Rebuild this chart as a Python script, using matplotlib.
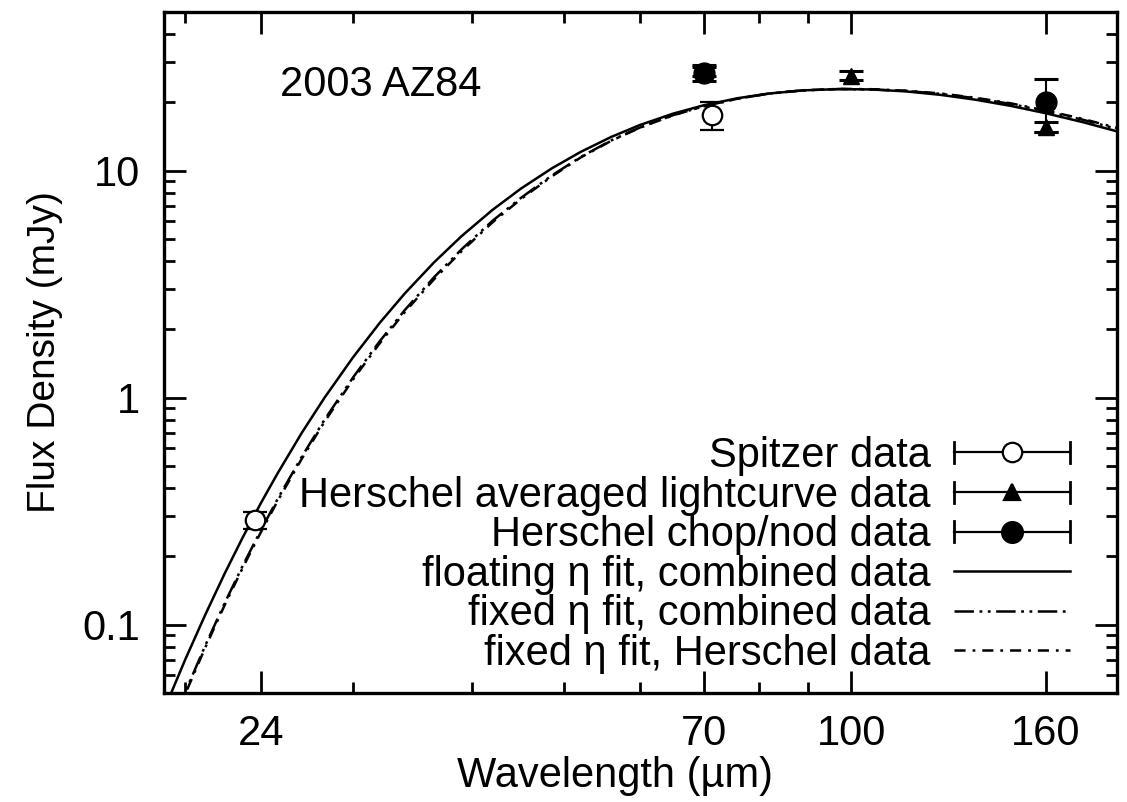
import matplotlib
matplotlib.use("Agg")
import matplotlib.pyplot as plt
from matplotlib.lines import Line2D
from matplotlib.legend_handler import HandlerBase
from matplotlib.ticker import FixedLocator, NullFormatter, FixedFormatter

plt.rcParams['font.family'] = ['Liberation Sans', 'DejaVu Sans']
plt.rcParams['lines.scale_dashes'] = False

# --- observations (wavelength in micron, flux in mJy) ---
spitzer_wl = [23.68, 71.42]
spitzer_flux = [0.29, 17.6]
spitzer_err = [0.025, 2.5]

herschel_lc_wl = [70, 100, 160]
herschel_lc_flux = [27.4, 26.2, 15.6]
herschel_lc_err = [1.3, 1.2, 0.8]

herschel_cn_wl = [70, 160]
herschel_cn_flux = [27.0, 20.1]
herschel_cn_err = [2.2, 5.3]

# --- model SEDs ---
model_wl = [19.2, 20, 21, 22, 23, 24, 25, 26.5, 28, 30, 32, 34, 36.5, 39, 42, 45,
            48.5, 52, 56, 60, 65, 70, 76, 82, 89, 97, 105, 114, 124, 135, 147,
            160, 175, 190]
fit_float_flux = [0.0467, 0.0702, 0.111, 0.168, 0.244, 0.342, 0.464, 0.699, 0.999,
                  1.506, 2.136, 2.880, 3.952, 5.150, 6.707, 8.332, 10.24, 12.10,
                  14.09, 15.89, 17.83, 19.41, 20.86, 21.87, 22.58, 22.88, 22.79,
                  22.35, 21.58, 20.54, 19.29, 17.90, 16.35, 14.90]

fixed_wl = [19.6, 20, 21, 22, 23, 24, 25, 26.5, 28, 30, 32, 34, 36.5, 39, 42, 45,
            48.5, 52, 56, 60, 65, 70, 76, 82, 89, 97, 105, 114, 124, 135, 147,
            160, 175, 190]
fit_fixed_comb_flux = [0.0408, 0.0505, 0.0812, 0.1245, 0.1831, 0.2598, 0.3576,
                       0.5485, 0.799, 1.228, 1.773, 2.433, 3.398, 4.506, 6.003,
                       7.582, 9.525, 11.49, 13.60, 15.49, 17.56, 19.22, 20.76,
                       21.87, 22.58, 22.88, 22.79, 22.46, 21.80, 20.85, 19.68,
                       18.26, 16.76, 15.27]
fit_fixed_hers_flux = [0.0400, 0.0495, 0.0796, 0.1220, 0.1794, 0.2546, 0.3505,
                       0.5375, 0.783, 1.203, 1.737, 2.385, 3.330, 4.420, 5.910,
                       7.490, 9.440, 11.43, 13.55, 15.46, 17.54, 19.21, 20.76,
                       21.87, 22.60, 22.92, 22.85, 22.52, 21.88, 20.95, 19.80,
                       18.40, 16.90, 15.42]

object_name = "2003 AZ84"
x_major = [24, 70, 100, 160]
x_minor = [20, 30, 40, 50, 60, 80, 90]
y_major = [0.1, 1, 10]
y_major_labels = ["0.1", "1", "10"]
y_minor = [0.06, 0.07, 0.08, 0.09, 0.2, 0.3, 0.4, 0.5, 0.6, 0.7, 0.8, 0.9,
           2, 3, 4, 5, 6, 7, 8, 9, 20, 30, 40]

labels = ["Spitzer data",
          "Herschel averaged lightcurve data",
          "Herschel chop/nod data",
          "floating η fit, combined data",
          "fixed η fit, combined data",
          "fixed η fit, Herschel data"]

FS = 30
fig = plt.figure(figsize=(11.27, 8.02), dpi=100)
ax = fig.add_axes([164/1127, 1 - 693/802, 953/1127, 681/802])

style_comb = (0, (14, 4, 2, 4, 2, 4))
style_hers = (0, (8, 5, 2, 5))

ax.plot(model_wl, fit_float_flux, color='black', lw=1.8, ls='-')
ax.plot(fixed_wl, fit_fixed_comb_flux, color='black', lw=1.8, ls=style_comb)
ax.plot(fixed_wl, fit_fixed_hers_flux, color='black', lw=1.8, ls=style_hers)

eb_kw = dict(ls='none', color='black', ecolor='black', elinewidth=1.5,
             capsize=8.5, capthick=2.2)
ax.errorbar(spitzer_wl, spitzer_flux, yerr=spitzer_err, fmt='o', ms=14,
            mfc='white', mec='black', mew=1.6, **eb_kw)
ax.errorbar(herschel_lc_wl, herschel_lc_flux, yerr=herschel_lc_err, fmt='^', ms=12,
            mfc='black', mec='black', **eb_kw)
ax.errorbar(herschel_cn_wl, herschel_cn_flux, yerr=herschel_cn_err, fmt='o', ms=15,
            mfc='black', mec='black', **eb_kw)

ax.set_xscale('log')
ax.set_yscale('log')
ax.set_xlim(19.0, 190.0)
ax.set_ylim(0.05, 50)

ax.xaxis.set_major_locator(FixedLocator(x_major))
ax.xaxis.set_major_formatter(FixedFormatter([str(v) for v in x_major]))
ax.xaxis.set_minor_locator(FixedLocator(x_minor))
ax.xaxis.set_minor_formatter(NullFormatter())
ax.yaxis.set_major_locator(FixedLocator(y_major))
ax.yaxis.set_major_formatter(FixedFormatter(y_major_labels))
ax.yaxis.set_minor_locator(FixedLocator(y_minor))
ax.yaxis.set_minor_formatter(NullFormatter())

ax.tick_params(which='both', direction='in', top=True, right=True, width=2.0,
               labelsize=FS, colors='black')
ax.tick_params(which='major', length=15.5)
ax.tick_params(which='minor', length=8)
ax.tick_params(axis='x', which='major', pad=15)
ax.tick_params(axis='y', which='major', pad=17)
for sp in ax.spines.values():
    sp.set_linewidth(2.4)

ax.set_xlabel("Wavelength (µm)", fontsize=30, labelpad=0)
ax.xaxis.set_label_coords((615 - 164) / 953, -0.092)
ax.set_ylabel("Flux Density (mJy)", fontsize=28, labelpad=14)

ax.text(0.122, 0.893, object_name, transform=ax.transAxes, fontsize=FS,
        ha='left', va='center')


class HandlerBarSample(HandlerBase):
    """Horizontal bar with end caps and a centred marker."""
    def create_artists(self, legend, orig_handle, xdescent, ydescent,
                       width, height, fontsize, trans):
        y = height / 2 - ydescent
        x0, x1 = -xdescent, width - xdescent
        cap = height * 0.36
        arts = [Line2D([x0, x1], [y, y], color='black', lw=1.6),
                Line2D([x0, x0], [y - cap, y + cap], color='black', lw=2.0),
                Line2D([x1, x1], [y - cap, y + cap], color='black', lw=2.0),
                Line2D([(x0 + x1) / 2], [y], marker=orig_handle.get_marker(),
                       ms=orig_handle.get_markersize(),
                       mfc=orig_handle.get_markerfacecolor(),
                       mec='black', mew=1.6, ls='none')]
        for a in arts:
            a.set_transform(trans)
        return arts


h_sp = Line2D([], [], marker='o', ms=14, mfc='white')
h_lc = Line2D([], [], marker='^', ms=11, mfc='black')
h_cn = Line2D([], [], marker='o', ms=15, mfc='black')
h_f1 = Line2D([], [], color='black', lw=1.8, ls='-')
h_f2 = Line2D([], [], color='black', lw=1.8, ls=style_comb)
h_f3 = Line2D([], [], color='black', lw=1.8, ls=style_hers)

handler = HandlerBarSample()
leg = ax.legend([h_sp, h_lc, h_cn, h_f1, h_f2, h_f3], labels,
                handler_map={h_sp: handler, h_lc: handler, h_cn: handler},
                loc='lower right', bbox_to_anchor=(0.951, 0.028),
                frameon=False, fontsize=FS, markerfirst=False,
                handlelength=2.8, handletextpad=0.55, labelspacing=-0.01,
                borderpad=0, borderaxespad=0)
for col in leg._legend_handle_box.get_children():
    col.align = 'right'

fig.savefig("out.png", dpi=100)
